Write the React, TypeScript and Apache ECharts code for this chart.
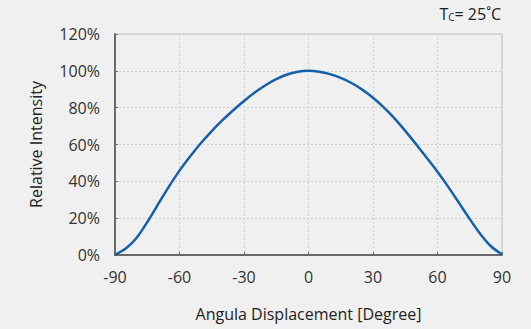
import React, { useEffect, useRef } from "react";
import * as echarts from "echarts";

const angles = [-90, -85, -80, -75, -70, -65, -60, -55, -50, -45, -40, -35, -30, -25, -20, -15, -10, -5, 0,
  5, 10, 15, 20, 25, 30, 35, 40, 45, 50, 55, 60, 65, 70, 75, 80, 85, 90];
const intensity = [0, 3.5, 9.2, 17.8, 27.5, 37, 45.8, 53.6, 60.8, 67.3, 73.2, 78.6, 83.6, 88.2, 92.2, 95.5, 98, 99.5, 100,
  99.5, 98.2, 96.2, 93.4, 89.8, 85.4, 80.2, 74.2, 67.4, 60.2, 52.8, 45.2, 37, 28.3, 19.5, 11.3, 4.6, 0.3];
const xTicks = { min: -90, max: 90, interval: 30 };
const yTicks = { min: 0, max: 120, interval: 20 };

const FONT = "'Open Sans', 'Noto Sans', sans-serif";

export default function App() {
  const ref = useRef<HTMLDivElement>(null);
  useEffect(() => {
    if (!ref.current) return;
    const chart = echarts.init(ref.current, undefined, { renderer: "svg" });
    chart.setOption({
      animation: false,
      backgroundColor: "#f0f0f0",
      grid: {
        left: 115, right: 29, top: 34, bottom: 74,
        show: true, borderColor: "#bdbdbd", borderWidth: 1, backgroundColor: "transparent",
      },
      graphic: [
        {
          type: "text",
          right: 30,
          top: 6,
          style: {
            text: "{t|T}{c|C}{t|= 25˚C}",
            rich: {
              t: { fontSize: 16, fill: "#222", fontFamily: FONT },
              c: { fontSize: 10, fill: "#222", fontFamily: FONT, padding: [6, 0, 0, 0] },
            },
          },
        },
      ],
      xAxis: {
        type: "value",
        min: xTicks.min, max: xTicks.max, interval: xTicks.interval,
        name: "Angula Displacement [Degree]",
        nameLocation: "middle",
        nameGap: 51,
        nameTextStyle: { fontSize: 16, color: "#222", fontFamily: FONT },
        axisLine: { show: true, onZero: false, lineStyle: { color: "#6a6a6a", width: 2 } },
        axisTick: { show: true, inside: true, length: 3, lineStyle: { color: "#6a6a6a" } },
        axisLabel: { fontSize: 16, color: "#333", margin: 14, fontFamily: FONT },
        splitLine: { show: true, lineStyle: { color: "#cfcfcf", type: [2, 2] } },
      },
      yAxis: {
        type: "value",
        min: yTicks.min, max: yTicks.max, interval: yTicks.interval,
        name: "Relative Intensity",
        nameLocation: "middle",
        nameGap: 71,
        nameTextStyle: { fontSize: 16, color: "#222", fontFamily: FONT },
        axisLine: { show: true, onZero: false, lineStyle: { color: "#6a6a6a", width: 2 } },
        axisTick: { show: true, inside: true, length: 3, lineStyle: { color: "#6a6a6a" } },
        axisLabel: { fontSize: 16, color: "#333", margin: 15, formatter: "{value}%", fontFamily: FONT },
        splitLine: { show: true, lineStyle: { color: "#cfcfcf", type: [2, 2] } },
      },
      series: [
        {
          type: "line",
          data: angles.map((a, i) => [a, intensity[i]]),
          smooth: 0.25,
          showSymbol: false,
          lineStyle: { color: "#1560a8", width: 2.5 },
        },
      ],
    });
    return () => chart.dispose();
  }, []);
  return <div ref={ref} style={{ width: 531, height: 329, position: "absolute", left: 0, top: 0 }} />;
}
